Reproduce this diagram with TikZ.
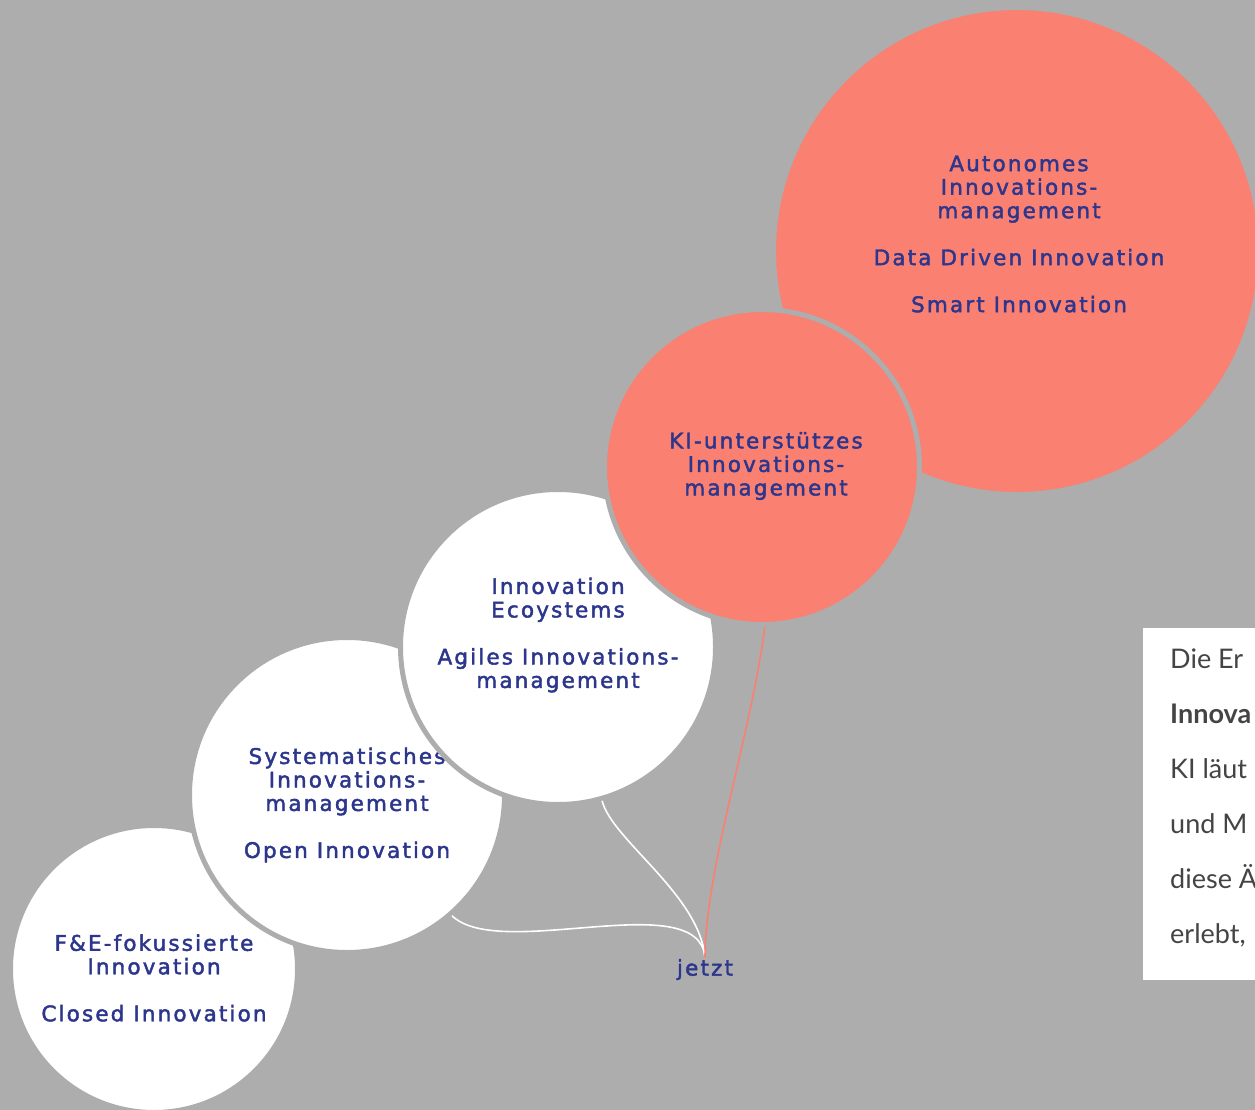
\documentclass[tikz,border=0pt]{standalone}
\usepackage{fontspec}
\setmainfont{Lato}
\newfontfamily\stagefont{DejaVu Sans}[LetterSpace=10, FakeBold=2]
\usepackage{xcolor}
\definecolor{bggray}{RGB}{173,173,173}
\definecolor{salmonred}{RGB}{250,128,114}
\definecolor{stageblue}{RGB}{44,54,140}
\definecolor{notetext}{RGB}{68,68,68}

\begin{document}
\begin{tikzpicture}[x=1pt, y=-1pt,
    stage/.style={circle, draw=bggray, line width=5pt, inner sep=0pt, minimum size=315pt},
    stagetext/.style={align=center, text=stageblue, font=\stagefont\fontsize{21.5}{23.5}\selectfont},
    link/.style={line width=1.6pt},
    noteline/.style={anchor=base west, inner sep=0pt, text=notetext, font=\fontsize{27}{30}\selectfont}]
  \useasboundingbox (0,0) rectangle (1255,1110);
  \fill[bggray] (0,0) rectangle (1255,1110);

  % stages, each one laid over the one before
  \node[stage, fill=white, minimum size=287pt] (fue) at (154,969) {};
  \node[stagetext] (fuetext) at (154,978) {F\&E-fokussierte\\Innovation\\[23.5pt]Closed Innovation};

  \node[stage, fill=white] (sys) at (347,795) {};
  \node[stagetext] (systext) at (347,805) {Systematisches\\Innovations-\\management\\[23.5pt]Open Innovation};

  \node[stage, fill=white] (eco) at (558,647) {};
  \node[stagetext] (ecotext) at (558,635) {Innovation\\Ecoystems\\[23.5pt]Agiles Innovations-\\management};

  \node[stage, fill=salmonred, minimum size=487pt] (auto) at (1017,251) {};
  \node[stagetext] (autotext) at (1019,234) {Autonomes\\Innovations-\\management\\[23.5pt]Data Driven Innovation\\[23.5pt]Smart Innovation};

  \node[stage, fill=salmonred] (ki) at (762,467) {};
  \node[stagetext] (kitext) at (766,466) {KI-unterstützes\\Innovations-\\management};

  % now
  \node[stagetext, anchor=north, inner sep=1pt] (jetzt) at (705,958) {jetzt};
  \draw[link, white] (sys.-49) .. controls (500,962) and (700,885) .. (jetzt.north);
  \draw[link, white] (eco.-74) .. controls (612,840) and (700,895) .. (jetzt.north);
  \draw[link, salmonred] (ki.-89) .. controls (752,730) and (705,870) .. (jetzt.north);

  % text box at the right edge
  \node[fill=white, anchor=north west, minimum width=130pt, minimum height=352pt, inner sep=0pt] (note) at (1143,628) {};
  \begin{scope}
    \clip (note.north west) rectangle (1255,980);
    \node[noteline] (l1) at (1170,668) {Die Er};
    \node[noteline, font=\fontsize{27}{30}\selectfont\bfseries] (l2) at (1170,723) {Innova};
    \node[noteline] (l3) at (1170,778) {KI läut};
    \node[noteline] (l4) at (1170,833) {und M};
    \node[noteline] (l5) at (1170,888) {diese Ä};
    \node[noteline] (l6) at (1170,943) {erlebt,};
  \end{scope}
\end{tikzpicture}
\end{document}
